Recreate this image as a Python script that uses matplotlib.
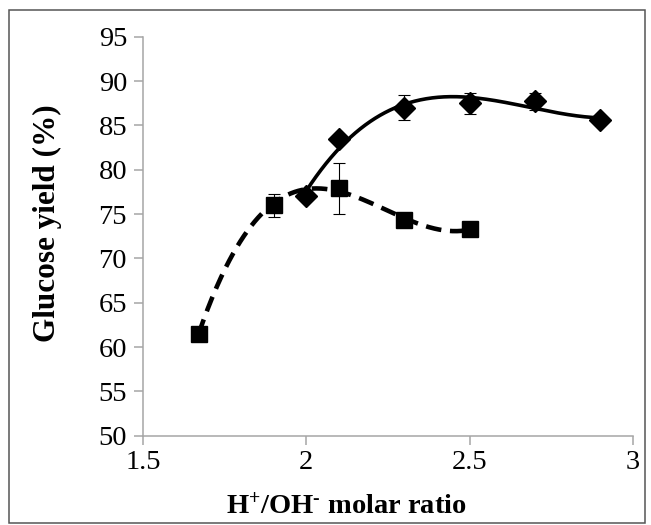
import numpy as np
import matplotlib
matplotlib.use('Agg')
import matplotlib.pyplot as plt
from matplotlib.patches import Rectangle

# ---- data ----
sq_x = [1.67, 1.9, 2.1, 2.3, 2.5]
sq_y = [61.5, 76.0, 77.9, 74.3, 73.3]
sq_err = [0.0, 1.3, 2.85, 0.0, 0.0]

di_x = [2.0, 2.1, 2.3, 2.5, 2.7, 2.9]
di_y = [77.0, 83.5, 87.0, 87.5, 87.7, 85.6]
di_err = [0.0, 0.0, 1.45, 1.2, 1.0, 0.0]

x_ticks = [1.5, 2.0, 2.5, 3.0]
x_tick_labels = ['1.5', '2', '2.5', '3']
y_ticks = [50, 55, 60, 65, 70, 75, 80, 85, 90, 95]
y_tick_labels = [str(v) for v in y_ticks]

plt.rcParams['font.family'] = ['Liberation Serif', 'DejaVu Serif']
plt.rcParams['mathtext.fontset'] = 'custom'
plt.rcParams['mathtext.rm'] = 'Liberation Serif:bold'
plt.rcParams['mathtext.bf'] = 'Liberation Serif:bold'
plt.rcParams['mathtext.it'] = 'Liberation Serif:bold'

W, H = 651, 525
fig = plt.figure(figsize=(W / 100, H / 100), dpi=100)
ax = fig.add_axes([143 / W, 1 - 435.7 / H, (633 - 143) / W, (435.7 - 36.7) / H])

# trendlines (polynomial fits, as in the original spreadsheet chart)
def trend(xs, ys, deg):
    c = np.polyfit(xs, ys, deg)
    xx = np.linspace(min(xs), max(xs), 300)
    return xx, np.polyval(c, xx)

tx, ty = trend(di_x, di_y, 3)
ax.plot(tx, ty, color='black', lw=2.6, solid_capstyle='butt', zorder=3)
sx, sy = trend(sq_x, sq_y, 3)
ax.plot(sx, sy, color='black', lw=3.3, dashes=(3.4, 1.9), dash_capstyle='butt', zorder=3)

# markers
ax.plot(di_x, di_y, linestyle='none', marker='D', ms=11, color='black', zorder=4)
ax.plot(sq_x, sq_y, linestyle='none', marker='s', ms=12, color='black', zorder=4)

# error bars
def ebars(xs, ys, es):
    xe = [x for x, e in zip(xs, es) if e > 0]
    ye = [y for y, e in zip(ys, es) if e > 0]
    ee = [e for e in es if e > 0]
    ax.errorbar(xe, ye, yerr=ee, fmt='none', ecolor='black', elinewidth=0.8,
                capsize=4, capthick=0.8, zorder=5)

ebars(di_x, di_y, di_err)
ebars(sq_x, sq_y, sq_err)

ax.set_xlim(1.5, 3.0)
ax.set_ylim(50, 95)
ax.set_xticks(x_ticks)
ax.set_xticklabels(x_tick_labels)
ax.set_yticks(y_ticks)
ax.set_yticklabels(y_tick_labels)

gray = '#a6a6a6'
for s in ['top', 'right']:
    ax.spines[s].set_visible(False)
for s in ['left', 'bottom']:
    ax.spines[s].set_color(gray)
    ax.spines[s].set_linewidth(1.1)
ax.tick_params(axis='both', direction='out', length=6.5, width=1.1, color=gray,
               labelsize=20.5, labelcolor='black')
ax.tick_params(axis='y', pad=5)
ax.tick_params(axis='x', pad=4)

fig.text(47 / W, 1 - 223 / H, 'Glucose yield (%)', rotation=90, ha='center', va='center',
         fontsize=22.5, fontweight='bold')
fig.text(346 / W, 1 - 506 / H, r'H$^{+}$/OH$^{\text{-}}$ molar ratio', ha='center', va='center',
         fontsize=20.5, fontweight='bold')

fig.patches.append(Rectangle((8.5 / W, 1 - 523 / H), (645 - 8.5) / W, (523 - 10) / H,
                             transform=fig.transFigure, fill=False, edgecolor='#555555',
                             linewidth=1.1, zorder=0))

fig.savefig('out.png', dpi=100)
